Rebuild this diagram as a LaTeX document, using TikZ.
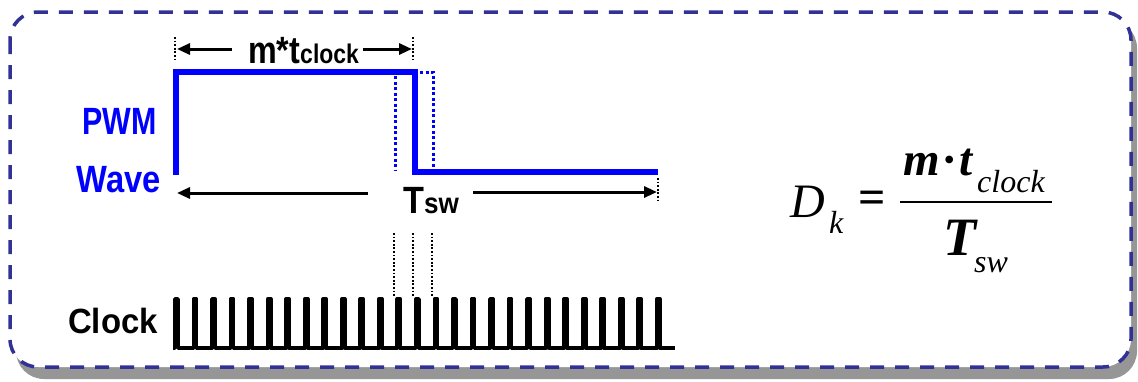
\documentclass[tikz,border=0pt]{standalone}
\usepackage{fontspec}
\usepackage{graphicx}
\setmainfont{Liberation Serif}
\newfontfamily\lsans{Liberation Sans}
\usetikzlibrary{arrows.meta}
\definecolor{borderblue}{RGB}{50,50,150}
\definecolor{pwmblue}{RGB}{0,0,255}
\definecolor{shadowgray}{RGB}{150,150,150}
\tikzset{
  lbl/.style={inner sep=0pt, font=\lsans\bfseries},
  frm/.style={inner sep=0pt, anchor=base west},
  pwmline/.style={draw=pwmblue, line width=5.5pt, line join=miter},
  bdot/.style={draw=pwmblue, line width=3pt, dash pattern=on 3pt off 2.5pt},
  kdot/.style={draw=black, line width=1.8pt, dash pattern=on 1.8pt off 1.8pt},
  dim/.style={draw=black, line width=3pt, -{Triangle[length=13pt,width=11pt]}},
  clk/.style={draw=black, line width=3.8pt, line join=round},
}
\begin{document}
\begin{tikzpicture}[x=1pt,y=-1pt]
\useasboundingbox (0,0) rectangle (1138,381);
% frame with shadow
\fill[shadowgray, rounded corners=28pt] (16,20) rectangle (1137,379);
\draw[borderblue, fill=white, line width=3.5pt, dash pattern=on 14pt off 11pt, rounded corners=28pt] (10,12) rectangle (1131,367);

% labels
\node[lbl, text=pwmblue, anchor=base east] (pwm) at (157,134) {\scalebox{0.8}[1]{\fontsize{38}{38}\selectfont PWM}};
\node[lbl, text=pwmblue, anchor=base east] (wave) at (161,192) {\scalebox{0.86}[1]{\fontsize{38}{38}\selectfont Wave}};
\node[lbl, anchor=base west] (clock) at (68,333) {\scalebox{0.94}[1]{\fontsize{35}{35}\selectfont Clock}};
\node[lbl, anchor=base west] (mt) at (248,63) {\scalebox{0.85}[1]{\fontsize{38}{38}\selectfont m*t\fontsize{27}{27}\selectfont clock}};
\node[lbl, anchor=base west] (tsw) at (403,213) {\scalebox{0.9}[1]{\fontsize{38}{38}\selectfont T\fontsize{29}{29}\selectfont sw}};

% PWM waveform
\coordinate (p0) at (176,175);
\coordinate (p1) at (176,72);
\coordinate (p2) at (415,72);
\coordinate (p3) at (415,172);
\coordinate (p4) at (658,172);
\draw[pwmline] (p0) -- (p1) -- (p2) -- (p3) -- (p4);
\coordinate (d1a) at (395,76);
\coordinate (d1b) at (395,171);
\draw[bdot] (d1a) -- (d1b);
\coordinate (d2a) at (420,72);
\coordinate (d2b) at (433,72);
\coordinate (d2c) at (433,170);
\draw[bdot] (d2a) -- (d2b) -- (d2c);

% m*tclock dimension
\coordinate (mL1) at (175,37); \coordinate (mL2) at (175,62);
\coordinate (mR1) at (413,37); \coordinate (mR2) at (413,62);
\draw[kdot] (mL1) -- (mL2);
\draw[kdot] (mR1) -- (mR2);
\coordinate (maL) at (232,49); \coordinate (maLt) at (177,49);
\coordinate (maR) at (363,49); \coordinate (maRt) at (412,49);
\draw[dim] (maL) -- (maLt);
\draw[dim] (maR) -- (maRt);

% Tsw dimension
\coordinate (taL) at (368,193); \coordinate (taLt) at (177,193);
\coordinate (taR) at (473,192); \coordinate (taRt) at (657,192);
\draw[dim] (taL) -- (taLt);
\draw[dim] (taR) -- (taRt);
\coordinate (tR1) at (658,178); \coordinate (tR2) at (658,201);
\draw[kdot] (tR1) -- (tR2);

% clock dotted guides
\foreach \x in {394,413,432} {
  \draw[kdot] (\x,233) -- (\x,297);
}

% clock waveform
\draw[clk] (173,348) \foreach \i in {0,...,26} { -- ({176.5+18.53*\i-1.5},348) -- ++(0,-49) -- ++(3,0) -- ++(0,49) } -- (675,348);

% formula
\node[frm] (D) at (790,217) {\fontsize{48}{48}\selectfont\itshape D};
\node[frm] (k) at (829,233) {\fontsize{32}{32}\selectfont\itshape k};
\node[inner sep=0pt, anchor=base] (eq) at (872,213) {\fontsize{48}{48}\selectfont\bfseries =};
\node[frm] (num) at (903,175) {\fontsize{47}{47}\selectfont\bfseries\itshape m\hspace{4pt}·\hspace{4pt}t};
\node[frm] (clksub) at (977,192) {\fontsize{32}{32}\selectfont\itshape clock};
\coordinate (barL) at (900,202);
\coordinate (barR) at (1052,202);
\draw[line width=1.6pt] (barL) -- (barR);
\node[frm] (T) at (943,255) {\fontsize{54}{54}\selectfont\bfseries\itshape T};
\node[frm] (sw) at (974,272) {\fontsize{32}{32}\selectfont\itshape sw};
\end{tikzpicture}
\end{document}
